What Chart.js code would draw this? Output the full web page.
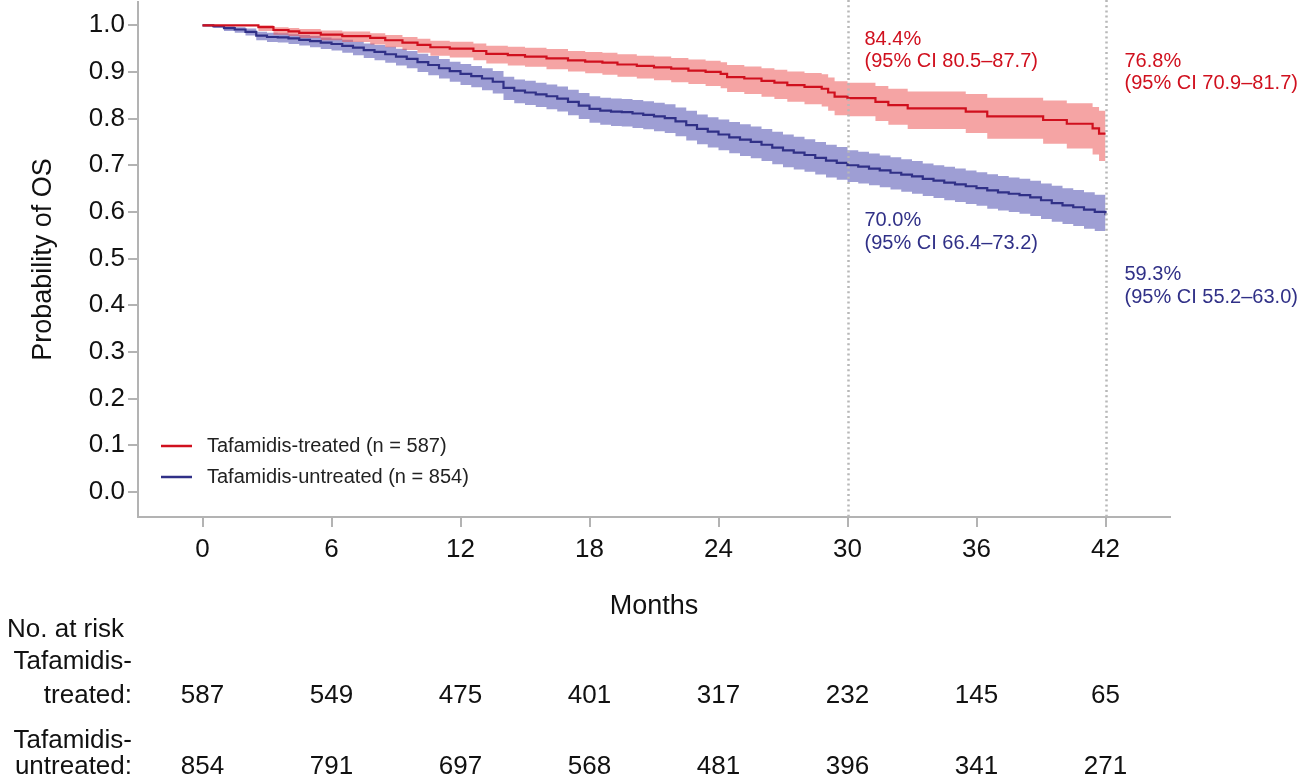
<!DOCTYPE html>
<html>
<head>
<meta charset="utf-8">
<script src="https://cdn.jsdelivr.net/npm/chart.js@4.4.1/dist/chart.umd.min.js"></script>
<style>
html,body{margin:0;padding:0;background:#fff;}
#wrap{width:1299px;height:776px;position:relative;}
</style>
</head>
<body>
<div id="wrap"><canvas id="c"></canvas></div>
<script>
// ---------- data ----------
const xTickValues = [0, 6, 12, 18, 24, 30, 36, 42];
const yTickValues = [0.0, 0.1, 0.2, 0.3, 0.4, 0.5, 0.6, 0.7, 0.8, 0.9, 1.0];

const seriesLabels = ['Tafamidis-treated (n = 587)', 'Tafamidis-untreated (n = 854)'];

const treatedTime  = [0, 2.6, 3.3, 4.0, 4.5, 5.5, 6.5, 7.8, 8.5, 9.3, 10.0, 10.6, 11.5, 12.6, 13.2, 14.2, 15.0, 16.0, 17.0, 17.8, 18.6, 19.3, 20.2, 21.0, 21.8, 22.6, 23.4, 24.1, 24.4, 25.2, 26.0, 26.6, 27.2, 28.0, 28.8, 29.1, 29.4, 30.0, 31.3, 31.9, 32.8, 35.5, 36.5, 39.1, 40.2, 41.4, 41.7, 42.0];
const treatedSurv  = [1.000, 0.996, 0.990, 0.987, 0.984, 0.980, 0.977, 0.973, 0.968, 0.963, 0.958, 0.953, 0.950, 0.945, 0.939, 0.936, 0.933, 0.929, 0.925, 0.922, 0.920, 0.916, 0.913, 0.910, 0.907, 0.903, 0.900, 0.896, 0.889, 0.886, 0.881, 0.877, 0.872, 0.868, 0.864, 0.856, 0.847, 0.844, 0.836, 0.829, 0.822, 0.815, 0.805, 0.797, 0.789, 0.779, 0.768, 0.768];
const treatedLower = [1.000, 0.988, 0.980, 0.977, 0.973, 0.968, 0.964, 0.959, 0.953, 0.947, 0.941, 0.935, 0.931, 0.925, 0.918, 0.914, 0.911, 0.906, 0.901, 0.897, 0.894, 0.890, 0.886, 0.882, 0.878, 0.874, 0.870, 0.865, 0.857, 0.853, 0.847, 0.842, 0.836, 0.831, 0.826, 0.817, 0.807, 0.805, 0.795, 0.787, 0.778, 0.769, 0.757, 0.746, 0.736, 0.723, 0.709, 0.709];
const treatedUpper = [1.000, 1.000, 0.996, 0.994, 0.992, 0.989, 0.987, 0.983, 0.979, 0.975, 0.971, 0.967, 0.965, 0.961, 0.956, 0.954, 0.952, 0.949, 0.945, 0.943, 0.941, 0.938, 0.935, 0.933, 0.930, 0.927, 0.924, 0.921, 0.915, 0.912, 0.908, 0.905, 0.901, 0.898, 0.895, 0.888, 0.880, 0.877, 0.870, 0.864, 0.858, 0.853, 0.845, 0.839, 0.833, 0.825, 0.817, 0.817];

const untreatedTime  = [0, 0.5, 1.0, 1.5, 2.0, 2.5, 3.0, 3.5, 4.0, 4.5, 5.0, 5.5, 6.0, 6.5, 7.0, 7.5, 8.0, 8.5, 9.0, 9.5, 10.0, 10.5, 11.0, 11.5, 12.0, 12.5, 13.0, 13.5, 14.0, 14.5, 15.0, 15.5, 16.0, 16.5, 17.0, 17.5, 18.0, 18.5, 19.0, 19.5, 20.0, 20.5, 21.0, 21.5, 22.0, 22.5, 23.0, 23.5, 24.0, 24.5, 25.0, 25.5, 26.0, 26.5, 27.0, 27.5, 28.0, 28.5, 29.0, 29.5, 30.0, 30.5, 31.0, 31.5, 32.0, 32.5, 33.0, 33.5, 34.0, 34.5, 35.0, 35.5, 36.0, 36.5, 37.0, 37.5, 38.0, 38.5, 39.0, 39.5, 40.0, 40.5, 41.0, 41.5, 42.0];
const untreatedSurv  = [1.000, 0.998, 0.994, 0.991, 0.986, 0.978, 0.975, 0.974, 0.972, 0.969, 0.966, 0.963, 0.960, 0.956, 0.952, 0.947, 0.943, 0.938, 0.933, 0.928, 0.921, 0.915, 0.908, 0.902, 0.896, 0.891, 0.886, 0.879, 0.866, 0.860, 0.856, 0.852, 0.848, 0.843, 0.836, 0.828, 0.821, 0.817, 0.815, 0.814, 0.811, 0.808, 0.805, 0.801, 0.794, 0.786, 0.778, 0.772, 0.766, 0.760, 0.755, 0.750, 0.744, 0.738, 0.732, 0.727, 0.722, 0.716, 0.710, 0.705, 0.700, 0.697, 0.693, 0.689, 0.684, 0.680, 0.676, 0.671, 0.667, 0.663, 0.659, 0.655, 0.651, 0.646, 0.642, 0.639, 0.636, 0.631, 0.625, 0.619, 0.614, 0.610, 0.605, 0.600, 0.593];
const untreatedLower = [1.000, 0.994, 0.988, 0.984, 0.978, 0.968, 0.964, 0.963, 0.960, 0.957, 0.953, 0.949, 0.946, 0.941, 0.936, 0.930, 0.925, 0.920, 0.914, 0.908, 0.900, 0.893, 0.886, 0.879, 0.872, 0.867, 0.861, 0.854, 0.840, 0.833, 0.829, 0.825, 0.820, 0.815, 0.807, 0.799, 0.791, 0.787, 0.784, 0.783, 0.780, 0.777, 0.773, 0.769, 0.762, 0.753, 0.745, 0.738, 0.732, 0.726, 0.720, 0.715, 0.709, 0.702, 0.696, 0.691, 0.686, 0.680, 0.674, 0.669, 0.664, 0.661, 0.657, 0.653, 0.648, 0.643, 0.639, 0.634, 0.630, 0.625, 0.621, 0.617, 0.613, 0.607, 0.603, 0.600, 0.596, 0.591, 0.585, 0.579, 0.574, 0.570, 0.564, 0.559, 0.552];
const untreatedUpper = [1.000, 1.000, 0.998, 0.996, 0.993, 0.986, 0.984, 0.983, 0.981, 0.979, 0.977, 0.974, 0.972, 0.969, 0.965, 0.961, 0.958, 0.954, 0.950, 0.945, 0.939, 0.934, 0.928, 0.922, 0.917, 0.913, 0.908, 0.902, 0.890, 0.884, 0.881, 0.877, 0.873, 0.869, 0.862, 0.855, 0.848, 0.845, 0.843, 0.842, 0.840, 0.837, 0.834, 0.831, 0.824, 0.817, 0.809, 0.803, 0.798, 0.793, 0.788, 0.783, 0.778, 0.772, 0.766, 0.761, 0.756, 0.750, 0.744, 0.739, 0.732, 0.729, 0.725, 0.721, 0.717, 0.713, 0.709, 0.704, 0.700, 0.697, 0.693, 0.689, 0.685, 0.681, 0.677, 0.674, 0.671, 0.667, 0.661, 0.656, 0.651, 0.647, 0.642, 0.637, 0.630];

const riskMonths    = [0, 6, 12, 18, 24, 30, 36, 42];
const riskTreated   = [587, 549, 475, 401, 317, 232, 145, 65];
const riskUntreated = [854, 791, 697, 568, 481, 396, 341, 271];

const landmarkMonths = [30, 42];
const landmarkTreatedText   = [['84.4%', '(95% CI 80.5\u201387.7)'], ['76.8%', '(95% CI 70.9\u201381.7)']];
const landmarkUntreatedText = [['70.0%', '(95% CI 66.4\u201373.2)'], ['59.3%', '(95% CI 55.2\u201363.0)']];

// ---------- styles ----------
const FONT = "'Liberation Sans', Arial, Helvetica, sans-serif";
const RED = 'rgb(208,16,30)';
const RED_BAND = 'rgba(236,80,80,0.52)';
const BLUE = 'rgb(48,48,135)';
const BLUE_BAND = 'rgba(62,62,170,0.5)';
const AXIS = '#b3b3b3';
const TEXT = '#111111';

const pts = (xs, ys) => xs.map((x, i) => ({x: x, y: ys[i]}));

const overlay = {
  id: 'overlay',
  afterDatasetsDraw(chart) {
    const ctx = chart.ctx, xs = chart.scales.x, ca = chart.chartArea;
    ctx.save();
    ctx.strokeStyle = '#b8b8b8';
    ctx.lineWidth = 2.5;
    ctx.setLineDash([2, 3.2]);
    landmarkMonths.forEach(m => {
      const px = Math.round(xs.getPixelForValue(m)) + 0.5;
      ctx.beginPath();
      ctx.moveTo(px, 0);
      ctx.lineTo(px, ca.bottom);
      ctx.stroke();
    });
    ctx.restore();
  },
  afterDraw(chart) {
    const ctx = chart.ctx, xs = chart.scales.x;
    ctx.save();
    // landmark annotations
    ctx.font = '20px ' + FONT;
    ctx.textAlign = 'left';
    ctx.textBaseline = 'middle';
    const tY = [[39, 61], [61, 83]];
    const uY = [[220, 243], [274, 297]];
    const offs = [17, 19];
    landmarkMonths.forEach((m, i) => {
      const px = xs.getPixelForValue(m) + offs[i];
      ctx.fillStyle = RED;
      ctx.fillText(landmarkTreatedText[i][0], px, tY[i][0]);
      ctx.fillText(landmarkTreatedText[i][1], px, tY[i][1]);
      ctx.fillStyle = BLUE;
      ctx.fillText(landmarkUntreatedText[i][0], px, uY[i][0]);
      ctx.fillText(landmarkUntreatedText[i][1], px, uY[i][1]);
    });
    // legend
    const legY = [446, 477];
    const legCol = [RED, BLUE];
    seriesLabels.forEach((lab, i) => {
      ctx.strokeStyle = legCol[i];
      ctx.lineWidth = 2.5;
      ctx.beginPath();
      ctx.moveTo(161, legY[i]);
      ctx.lineTo(192, legY[i]);
      ctx.stroke();
      ctx.fillStyle = '#222';
      ctx.font = '20px ' + FONT;
      ctx.fillText(lab, 207, legY[i]);
    });
    // risk table
    ctx.fillStyle = TEXT;
    ctx.font = '26px ' + FONT;
    ctx.textAlign = 'left';
    ctx.fillText('No. at risk', 7, 630);
    ctx.textAlign = 'right';
    ctx.fillText('Tafamidis-', 132, 662);
    ctx.fillText('treated:', 132, 696);
    ctx.fillText('Tafamidis-', 132, 741);
    ctx.fillText('untreated:', 132, 767);
    ctx.textAlign = 'center';
    riskMonths.forEach((m, i) => {
      const px = xs.getPixelForValue(m);
      ctx.fillText(String(riskTreated[i]), px, 696);
      ctx.fillText(String(riskUntreated[i]), px, 767);
    });
    ctx.restore();
  }
};

new Chart(document.getElementById('c'), {
  type: 'line',
  data: {
    datasets: [
      {label: seriesLabels[0], data: pts(treatedTime, treatedSurv), stepped: 'before', borderColor: RED, borderWidth: 2.2, pointRadius: 0, fill: false, order: 0},
      {label: seriesLabels[1], data: pts(untreatedTime, untreatedSurv), stepped: 'before', borderColor: BLUE, borderWidth: 2.2, pointRadius: 0, fill: false, order: 0},
      {label: 'treated upper', data: pts(treatedTime, treatedUpper), stepped: 'before', borderWidth: 0, borderColor: 'rgba(0,0,0,0)', backgroundColor: RED_BAND, pointRadius: 0, fill: 3, order: 1},
      {label: 'treated lower', data: pts(treatedTime, treatedLower), stepped: 'before', borderWidth: 0, borderColor: 'rgba(0,0,0,0)', pointRadius: 0, fill: false, order: 1},
      {label: 'untreated upper', data: pts(untreatedTime, untreatedUpper), stepped: 'before', borderWidth: 0, borderColor: 'rgba(0,0,0,0)', backgroundColor: BLUE_BAND, pointRadius: 0, fill: 5, order: 2},
      {label: 'untreated lower', data: pts(untreatedTime, untreatedLower), stepped: 'before', borderWidth: 0, borderColor: 'rgba(0,0,0,0)', pointRadius: 0, fill: false, order: 2}
    ]
  },
  options: {
    responsive: true,
    maintainAspectRatio: false,
    animation: false,
    layout: {padding: {top: 2, right: 129, bottom: 0, left: 0}},
    plugins: {legend: {display: false}, tooltip: {enabled: false}},
    scales: {
      x: {
        type: 'linear', min: -3, max: 45,
        afterBuildTicks: s => { s.ticks = xTickValues.map(v => ({value: v})); },
        afterFit: s => { s.height = 259; s.paddingLeft = 0; s.paddingRight = 0; },
        grid: {drawOnChartArea: false, drawTicks: true, tickLength: 10, color: AXIS, lineWidth: 2},
        border: {display: true, color: AXIS, width: 2},
        ticks: {color: TEXT, font: {family: FONT, size: 26}, padding: 7, maxRotation: 0, autoSkip: false},
        title: {display: true, text: 'Months', color: TEXT, font: {family: FONT, size: 27}, padding: {top: 0, bottom: 153}}
      },
      y: {
        type: 'linear', min: -0.054, max: 1.05,
        afterBuildTicks: s => { s.ticks = yTickValues.map(v => ({value: v})); },
        afterFit: s => { s.width = 138; s.paddingTop = 0; s.paddingBottom = 0; },
        grid: {drawOnChartArea: false, drawTicks: true, tickLength: 10, color: AXIS, lineWidth: 2},
        border: {display: true, color: AXIS, width: 2},
        ticks: {color: TEXT, font: {family: FONT, size: 26}, padding: 3, callback: v => Number(v).toFixed(1)},
        title: {display: true, text: 'Probability of OS', color: TEXT, font: {family: FONT, size: 27}, padding: {top: 27, bottom: 0}}
      }
    }
  },
  plugins: [overlay]
});
</script>
</body>
</html>
